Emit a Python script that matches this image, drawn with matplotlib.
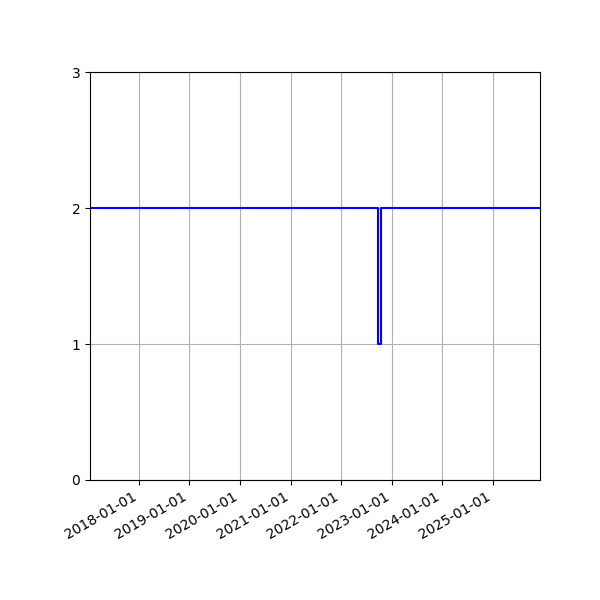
import pandas as pd
import matplotlib
matplotlib.use('Agg')
import matplotlib.pyplot as plt
import matplotlib.dates as mdates

# Change points of the step series
dates = pd.to_datetime(['2017-01-13', '2022-09-24', '2022-10-19', '2025-12-08'])
values = [2, 1, 2, 2]

fig, ax = plt.subplots(figsize=(6, 6), dpi=100)
ax.plot(dates, values, color='blue', drawstyle='steps-post', linewidth=1.5)

ax.set_xlim(dates[0], dates[-1])
ax.set_ylim(0, 3)
ax.set_yticks([0, 1, 2, 3])
ax.xaxis.set_major_locator(mdates.YearLocator())
ax.xaxis.set_major_formatter(mdates.DateFormatter('%Y-%m-%d'))
ax.grid(True)
fig.autofmt_xdate()
fig.subplots_adjust(left=0.15, right=0.9, top=0.88, bottom=0.2)

fig.savefig('out.png')
